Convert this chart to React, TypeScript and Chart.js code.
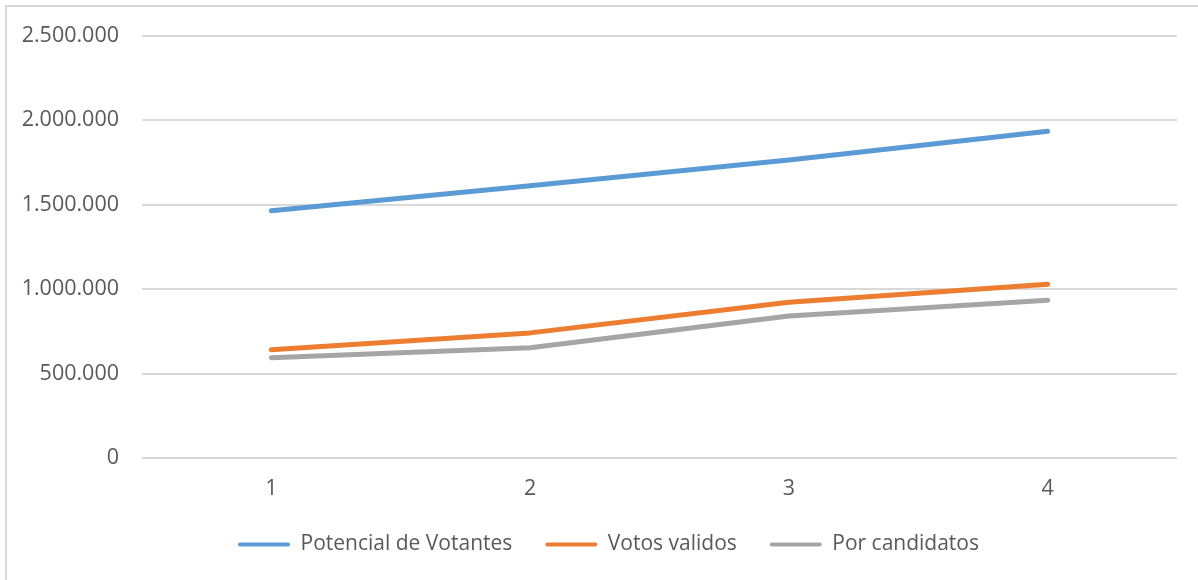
import React, { useEffect, useRef } from "react";
import { Chart, registerables } from "chart.js";

Chart.register(...registerables);

const categories = ["1", "2", "3", "4"];
const potencialVotantes = [1465000, 1612000, 1765000, 1935000];
const votosValidos = [641000, 741000, 923000, 1029000];
const porCandidatos = [594000, 653000, 841000, 935000];
const seriesNames = ["Potencial de Votantes", "Votos validos", "Por candidatos"];
const seriesColors = ["#5B9BD5", "#ED7D31", "#A5A5A5"];

const FONT = "'Open Sans', 'DejaVu Sans', sans-serif";
const TEXT = "#595959";

const frame = {
  id: "frame",
  beforeDraw(chart: any) {
    const ctx = chart.ctx;
    ctx.save();
    ctx.fillStyle = "#ffffff";
    ctx.fillRect(0, 0, chart.width, chart.height);
    ctx.strokeStyle = "#D9D9D9";
    ctx.lineWidth = 2;
    ctx.beginPath();
    ctx.moveTo(6, chart.height);
    ctx.lineTo(6, 6);
    ctx.lineTo(chart.width, 6);
    ctx.stroke();
    ctx.restore();
  },
};

const legendShift = {
  id: "legendShift",
  afterLayout(chart: any) {
    if (chart.legend) {
      chart.legend.left += 20;
      chart.legend.right += 20;
    }
  },
};

function fmt(v: number) {
  return String(Math.round(v)).replace(/\B(?=(\d{3})+(?!\d))/g, ".");
}

export default function App() {
  const ref = useRef<HTMLCanvasElement | null>(null);
  useEffect(() => {
    document.body.style.margin = "0";
    const data = [potencialVotantes, votosValidos, porCandidatos];
    const chart = new Chart(ref.current!, {
      type: "line",
      data: {
        labels: categories,
        datasets: data.map((d, i) => ({
          label: seriesNames[i],
          data: d,
          borderColor: seriesColors[i],
          backgroundColor: seriesColors[i],
          borderWidth: 5,
          borderCapStyle: "round" as const,
          borderJoinStyle: "round" as const,
          pointRadius: 0,
          tension: 0,
          fill: false,
        })),
      },
      options: {
        animation: false,
        responsive: false,
        layout: { padding: { top: 34, right: 21, bottom: 15, left: 0 } },
        plugins: {
          tooltip: { enabled: false },
          legend: {
            position: "bottom",
            labels: {
              boxWidth: 52,
              boxHeight: 4,
              padding: 33,
              color: TEXT,
              font: { family: FONT, size: 21 },
              useBorderRadius: true,
              borderRadius: 2,
              generateLabels: (c: any) =>
                Chart.defaults.plugins.legend.labels
                  .generateLabels(c)
                  .map((l: any) => ({ ...l, lineWidth: 0 })),
            },
          },
        },
        scales: {
          x: {
            offset: true,
            afterFit: (s: any) => {
              s.height = 43;
            },
            grid: { display: false, drawTicks: false },
            border: { display: false },
            ticks: { color: TEXT, font: { family: FONT, size: 21.5 }, padding: 18 },
          },
          y: {
            min: 0,
            max: 2500000,
            afterFit: (s: any) => {
              s.width = 142;
            },
            grid: { color: "#D9D9D9", lineWidth: 2, drawTicks: false },
            border: { display: false },
            ticks: {
              stepSize: 500000,
              color: TEXT,
              font: { family: FONT, size: 21.5 },
              padding: 23,
              callback: (v: any) => fmt(Number(v)),
            },
          },
        },
      },
      plugins: [frame, legendShift],
    });
    return () => chart.destroy();
  }, []);
  return <canvas ref={ref} width={1198} height={580} style={{ display: "block" }} />;
}
